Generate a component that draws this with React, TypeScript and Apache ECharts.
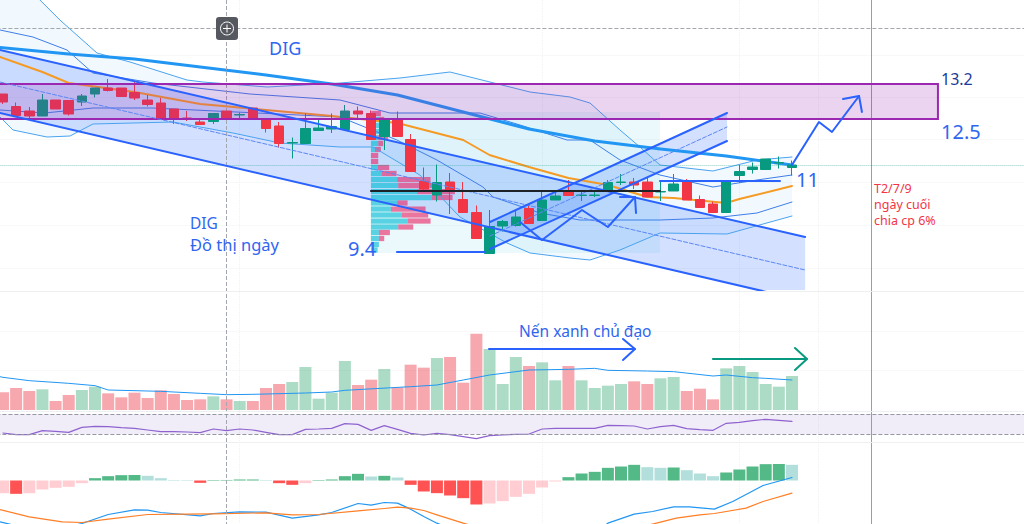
import React, { useEffect, useRef } from "react";
import * as echarts from "echarts";

type P = [number, number];

// [open, close, low, high] for each session
const candles: number[][] = [
  [12.42,12.26,12.22,12.42],[12.17,11.99,11.98,12.25],[12.08,11.98,11.94,12.16],[11.98,12.30,11.98,12.42],
  [12.30,12.12,12.12,12.30],[12.29,12.02,11.99,12.29],[12.26,12.38,12.18,12.42],[12.42,12.54,12.35,12.54],
  [12.54,12.49,12.47,12.72],[12.54,12.37,12.37,12.54],[12.45,12.34,12.30,12.68],[12.30,12.21,12.17,12.40],
  [12.24,11.93,11.93,12.34],[12.12,11.93,11.82,12.12],[11.94,11.93,11.88,12.08],[11.86,11.81,11.81,11.91],
  [11.87,12.03,11.82,12.03],[12.08,11.93,11.93,12.08],[12.00,12.01,11.93,12.05],[12.14,11.93,11.93,12.14],
  [11.91,11.73,11.65,11.91],[11.78,11.43,11.35,11.86],[11.44,11.45,11.13,11.55],[11.43,11.73,11.43,12.03],
  [11.69,11.74,11.69,11.90],[11.72,11.77,11.64,12.03],[11.71,12.08,11.71,12.20],[12.08,12.02,11.94,12.17],
  [12.03,11.51,11.51,12.09],[11.57,11.90,11.30,11.94],[11.91,11.57,11.57,12.07],[11.51,10.87,10.87,11.62],
  [10.67,10.52,10.50,10.95],[10.40,10.65,10.27,11.01],[10.66,10.50,10.02,10.84],[10.31,10.05,10.05,10.66],
  [10.05,9.53,9.53,10.19],[9.23,9.77,9.23,10.10],[9.78,9.87,9.67,9.90],[9.79,9.96,9.77,10.10],
  [10.13,9.83,9.83,10.20],[9.89,10.30,9.89,10.47],[10.30,10.38,10.30,10.47],[10.47,10.39,10.39,10.70],
  [10.39,10.40,10.28,10.47],[10.39,10.40,10.36,10.47],[10.47,10.65,10.47,10.70],[10.65,10.66,10.60,10.82],
  [10.66,10.60,10.52,10.74],[10.66,10.36,10.36,10.74],[10.46,10.47,10.28,10.70],[10.48,10.62,10.48,10.82],
  [10.66,10.30,10.30,10.72],[10.31,10.15,10.15,10.39],[10.22,10.05,10.05,10.27],[10.05,10.66,10.05,10.66],
  [10.79,10.87,10.64,11.00],[10.91,10.96,10.83,11.05],[10.91,11.12,10.91,11.12],[11.04,11.05,10.93,11.17],
  [10.95,11.00,10.79,11.09],
];

const volumes = [53,66,57,62,27,45,60,70,50,38,52,36,59,48,30,32,41,32,27,27,66,78,84,129,34,52,147,75,91,123,68,136,
  127,156,159,82,229,183,78,159,132,143,89,132,89,66,73,78,86,78,95,99,57,64,32,125,132,114,78,70,102];
const volumeAverage: P[] = [[-0.23,100],[0,98],[2,88],[5,80],[7,73],[8,60],[12,56],[15,50],[17,46],[19,47],[23,51],[25,54],[26,59],[31,70],
  [33,75],[35,90],[37,105],[40,120],[43,122],[45,125],[46,119],[49,117],[51,115],[54,102],[55,105],[57,97],[58,95],[60,90]];

const rsi = [32.7,29.3,29.3,37.3,36,34,44,46,45.3,43.3,42,38.7,35.3,35.3,34.7,33.3,40.7,37.3,40.7,38.7,34,29.3,29.3,40,40.7,42,51.3,50,38,47.3,40,
  32,28.7,32,29.3,25.3,21.3,27.3,28.7,30,30.7,40.7,42,42,42,42,48,47.3,46.7,40.7,45.3,48,41.3,39.3,38,52,54,57.3,60,58,56];

const macdHist = [-38,-40,-38,-27,-22,-19,-8,7,13,16,16.5,14,7,1.5,1.4,-7,1.5,1.6,3,3.1,1.5,-8,-13,-8,1.5,3,13,20,12,14,9,
  -13,-33,-38,-45,-53,-72,-69,-62,-49,-40,-21,-3,10,21,26,38,42,47,40,38,39,31,21,13,24,33,42,49,49.5,47];
const macdLine: P[] = [[-0.23,-124],[0.5,-131],[2,-145],[4,-148],[6,-129],[8,-102],[10,-88],[11,-89],[12,-96],[15,-106],[16,-99],[18,-94],[20,-95],[22,-113],[24,-103],[25,-96],[27,-69],[28,-74],[29,-66],[30,-68],[31,-86],
  [32,-108],[33,-128],[35,-160],[37,-190],[39,-210],[41,-200],[43,-180],[45,-160],[46,-128],[48,-101],[49.4,-93],[51,-79],[52.2,-79],[54.1,-86],[55.5,-63],[57.8,-15],[60,9]];
const macdSignal: P[] = [[-0.23,-87],[2,-109],[4.5,-124],[6,-126],[8,-116],[11,-102],[14,-101],[16,-100],[20,-97],[22,-103],[24,-102],[27,-91],[29,-84],[30,-80],[31,-83],
  [32,-90],[33,-103],[35,-128],[37,-150],[40,-170],[42,-175],[44,-172],[46,-166],[48,-144],[50,-125],[51.2,-113],[53,-103],[54.1,-99],[56.5,-83],[57.8,-63],[60,-38]];

const maSlow: P[] = [[-0.23,13.35],[5,13.22],[10,13.12],[15,12.96],[20,12.8],[25,12.62],[30,12.4],[35,12.06],[40,11.72],[45,11.48],[50,11.32],[55,11.18],[60,11.0]];
const maOrange: P[] = [[-0.23,13.16],[3,12.86],[5,12.64],[10,12.46],[15,12.22],[20,12.1],[25,11.98],[30,11.84],[35,11.5],[37,11.2],[40,10.96],[43,10.74],[46,10.6],[49,10.36],[51,10.34],[55,10.24],[56,10.32],[60,10.58]];
const bandUpper: P[] = [[2.81,14.3],[4.33,13.9],[7.15,13.24],[9.66,13.06],[13.99,12.7],[15.2,12.66],[20.08,12.56],[25.63,12.64],[30.19,12.74],[33.99,12.86],[37.03,12.66],[40.08,12.46],[43.12,12.36],[44.64,12.24],[46.92,11.7],[48.44,11.36],[49.96,11.0],[53.99,10.88],[57.34,11.1],[60,11.16]];
const bandLower: P[] = [[-0.23,11.96],[0.76,11.7],[3.35,11.56],[5.1,11.58],[6.84,11.82],[12.93,11.86],[17.49,11.64],[21.06,11.44],[25.63,11.36],[28.14,11.36],[31.7,10.8],[34.75,9.96],[38.33,9.44],[40.08,9.24],[43.12,9.14],[44.64,9.1],[46.92,9.3],[49.96,9.64],[55.06,9.62],[60,9.98]];
const bandInnerUp: P[] = [[-0.23,13.7],[2.28,13.56],[4.87,13.3],[6.84,12.84],[11.41,12.64],[18.78,12.42],[25.63,12.3],[29.43,12.04],[31.94,12.04],[36.27,12.04],[39.32,11.8],[42.89,11.5],[44.64,11.5],[46.92,11.1],[49.96,10.8],[53.99,10.56],[57.34,10.7],[60,10.8]];
const bandInnerLow: P[] = [[-0.23,12.1],[3.19,12.04],[6.84,12.14],[11.41,12.14],[25.63,11.96],[29.96,11.5],[33,11.1],[36.5,10.56],[37.27,10.36],[40.84,10.04],[43.88,9.9],[49.96,9.9],[53.99,9.94],[57.34,10.04],[60,10.26]];

// [price, up volume, down volume]
const volumeProfile: number[][] = [
  [12.03,2,28],[11.91,25,15],[11.79,25,25],[11.67,25,30],[11.55,22,30],[11.43,22,15],[11.31,12,18],[11.19,0,22],[11.07,0,22],
  [10.95,20,35],[10.83,32,45],[10.71,79,100],[10.59,82,130],[10.47,139,113],[10.35,182,63],[10.24,79,31],[10.12,60,104],
  [10.00,92,80],[9.88,110,69],[9.76,82,45],[9.65,24,33],[9.53,24,16],[9.41,24,0],[9.30,20,0],
];

const downChannelTop: P[] = [[-0.23,13.3],[61,9.56]];
const downChannelMid: P[] = [[-0.23,12.66],[61,8.9]];
const downChannelLow: P[] = [[-0.23,12.04],[61,8.28]];
const upChannelTop: P[] = [[37.03,9.86],[55.06,12.04]];
const upChannelMid: P[] = [[37.03,9.58],[55.06,11.76]];
const upChannelLow: P[] = [[37.03,9.32],[55.06,11.48]];
const resistanceZone: P[] = [[-0.5,12.62],[71.1,12.62],[71.1,11.92],[-0.5,11.92]];
const rangeBox: P[] = [[27.98,12.06],[49.96,12.06],[49.96,9.24],[27.98,9.24]];
const pocLine: P[] = [[27.98,10.48],[49.96,10.48]];
const supportLine: P[] = [[29.96,9.26],[36.65,9.26]];
const pivotLine: P[] = [[49.96,10.68],[59.09,10.68]];
const zigzag: P[] = [[39.32,9.86],[40.99,9.5],[44.03,10.1],[46,9.76],[48.06,10.36]];
const zigzagHead: P[] = [[46.92,10.36],[48.06,10.36],[48.14,10.04]];
const targetPath: P[] = [[60,11],[62.05,11.86],[63.04,11.66],[65.1,12.38]];
const targetHead: P[] = [[63.88,12.32],[65.1,12.38],[65.32,12.06]];
const volumeArrowBlue: P[] = [[36.96,183],[48.06,183]];
const volumeArrowBlueHead: P[] = [[47.15,213],[48.06,183],[47.15,150]];
const volumeArrowGreen: P[] = [[53.99,153],[61.14,153]];
const volumeArrowGreenHead: P[] = [[60.23,186],[61.14,153],[60.23,120]];

const gridPrices = [13.2, 12.36, 11.52, 10.66, 9.8, 8.94];
const gridBars = [18, 41, 56, 62];
const crosshairPrice = 13.74;
const crosshairBar = 17;
const marketBar = 66;
const lastPrice = 11;

const BLUE = "#2962ff";
const TEAL = "#089981";
const RED = "#f23645";
const TEXT_BLUE = "#2f66f0";
const dotted = { color: "rgba(120,123,134,0.1)", type: "dotted" as const, width: 1 };
const BAR_SLOTS = 79;
const categories = Array.from({ length: BAR_SLOTS }, (_, i) => String(i));

function line(xAxisIndex: number, yAxisIndex: number, data: P[], color: string, width: number, z: number, type: string = "solid", extra: any = {}) {
  return { type: "line", xAxisIndex, yAxisIndex, data, z, symbol: "none", showSymbol: false, silent: true, animation: false,
    lineStyle: { color, width, type, join: "round", cap: "round" }, ...extra };
}
function area(xAxisIndex: number, yAxisIndex: number, pts: P[], fill: string, z: number, stroke?: string, lw = 0) {
  return { type: "custom", xAxisIndex, yAxisIndex, z, clip: true, silent: true, data: [pts[0]],
    renderItem: (_: any, api: any) => ({
      type: "polygon",
      shape: { points: pts.map((p) => api.coord(p)) },
      style: { fill, stroke: stroke || "none", lineWidth: lw },
    }) };
}
function hMarks(values: number[], style: any) {
  return { silent: true, symbol: "none", animation: false, label: { show: false }, lineStyle: style, data: values.map((v) => ({ yAxis: v })) };
}
function vMarks(values: number[], style: any) {
  return { silent: true, symbol: "none", animation: false, label: { show: false }, lineStyle: style, data: values.map((v) => ({ xAxis: v })) };
}

function text(x: number, y: number, t: string, fill: string, size: number) {
  return { type: "text", x, y, z: 100, silent: true,
    style: { text: t, fill, fontSize: size, fontFamily: "'Noto Sans', sans-serif", textAlign: "left", textVerticalAlign: "middle" } };
}

function buildOption(): any {
  const xCommon = { show: false };
  const valX = (gridIndex: number) => ({ type: "value", gridIndex, min: -0.5, max: BAR_SLOTS - 0.5, ...xCommon });
  const catX = (gridIndex: number) => ({ type: "category", gridIndex, data: categories, ...xCommon });
  const gridBase = { left: -3.6, width: 13.15 * BAR_SLOTS, containLabel: false, show: false, outerBoundsMode: "none" };
  const vpStart = 27.98, vpScale = 1 / 39.45, vpRow = 0.105;

  return {
    animation: false,
    backgroundColor: "#ffffff",
    grid: [
      { ...gridBase, top: 0, height: 290 },
      { ...gridBase, top: 320, height: 90 },
      { ...gridBase, top: 404.33, height: 40 },
      { ...gridBase, top: 442, height: 82 },
      { ...gridBase, top: 0, height: 524 },
    ],
    xAxis: [catX(0), valX(0), catX(1), valX(1), valX(2), catX(3), valX(3), valX(4)],
    yAxis: [
      { type: "value", gridIndex: 0, min: 8.5, max: 14.3, show: false },
      { type: "value", gridIndex: 1, min: 0, max: 270, show: false },
      { type: "value", gridIndex: 2, min: 10, max: 90, show: false },
      { type: "value", gridIndex: 3, min: -130.5, max: 115.5, show: false },
      { type: "value", gridIndex: 4, min: 0, max: 524, inverse: true, show: false },
    ],
    graphic: [
      { type: "rect", z: 100, silent: true, shape: { x: 216, y: 17, width: 22, height: 23, r: 3 }, style: { fill: "#55585f" } },
      { type: "circle", z: 101, silent: true, shape: { cx: 227, cy: 28.5, r: 6.5 }, style: { fill: "none", stroke: "#fff", lineWidth: 1 } },
      { type: "line", z: 101, silent: true, shape: { x1: 223, y1: 28.5, x2: 231, y2: 28.5 }, style: { stroke: "#fff", lineWidth: 1 } },
      { type: "line", z: 101, silent: true, shape: { x1: 227, y1: 24.5, x2: 227, y2: 32.5 }, style: { stroke: "#fff", lineWidth: 1 } },
      text(269, 48, "DIG", TEXT_BLUE, 18),
      text(190, 223, "DIG", TEXT_BLUE, 15.5),
      text(190, 244, "Đồ thị ngày", TEXT_BLUE, 16.5),
      text(348, 248, "9.4", TEXT_BLUE, 20),
      text(941, 79, "13.2", "#1a3a9c", 16),
      text(941, 131, "12.5", TEXT_BLUE, 20),
      text(796, 179, "11", TEXT_BLUE, 20),
      text(874, 188, "T2/7/9", RED, 12.5),
      text(874, 204, "ngày cuối", RED, 12.5),
      text(874, 220, "chia cp 6%", RED, 12.5),
      text(519, 331, "Nến xanh chủ đạo", TEXT_BLUE, 15.5),
    ],
    series: [
      // page-wide rules
      line(7, 4, [[0, 0]], "transparent", 0, 1, "solid", { markLine: vMarks(gridBars, dotted) }),
      line(7, 4, [[0, 0]], "transparent", 0, 9, "solid", {
        markLine: vMarks([crosshairBar], { color: "#a3a6ae", type: "dashed", width: 1 }),
      }),
      line(7, 4, [[0, 0]], "transparent", 0, 9, "solid", {
        markLine: vMarks([marketBar], { color: "#7f9cf5", type: "solid", width: 1 }),
      }),
      line(7, 4, [[0, 0]], "transparent", 0, 1, "solid", {
        markLine: hMarks([291, 411, 442], { color: "#eeeff1", type: "solid", width: 1 }),
      }),

      // main pane backgrounds
      line(1, 0, [[0, 14]], "transparent", 0, 1, "solid", { markLine: hMarks(gridPrices, dotted) }),
      line(1, 0, [[0, 14]], "transparent", 0, 9, "solid", { markLine: hMarks([crosshairPrice], { color: "#a3a6ae", type: "dashed", width: 1 }) }),
      line(1, 0, [[0, 14]], "transparent", 0, 2, "solid", { markLine: hMarks([lastPrice], { color: "rgba(8,153,129,0.45)", type: "dotted", width: 1 }) }),
      area(1, 0, [...bandUpper, ...bandLower.slice().reverse(), [-0.23, 14.3] as P], "rgba(33,150,243,0.06)", 2),
      area(1, 0, [downChannelTop[0], downChannelTop[1], downChannelLow[1], downChannelLow[0]], "rgba(41,98,255,0.2)", 2),
      area(1, 0, [upChannelTop[0], upChannelTop[1], upChannelLow[1], upChannelLow[0]], "rgba(41,98,255,0.2)", 2),
      area(1, 0, rangeBox, "rgba(33,190,226,0.09)", 2),
      {
        type: "custom", xAxisIndex: 1, yAxisIndex: 0, z: 3, clip: true, silent: true,
        data: volumeProfile,
        encode: { y: 0 },
        renderItem: (_: any, api: any) => {
          const price = api.value(0), up = api.value(1), down = api.value(2);
          const a = api.coord([vpStart, price + vpRow / 2]);
          const b = api.coord([vpStart + up * vpScale, price - vpRow / 2]);
          const c = api.coord([vpStart + (up + down) * vpScale, price - vpRow / 2]);
          return { type: "group", children: [
            { type: "rect", shape: { x: a[0], y: a[1], width: b[0] - a[0], height: b[1] - a[1] }, style: { fill: "rgba(0,188,212,0.62)" } },
            { type: "rect", shape: { x: b[0], y: a[1], width: c[0] - b[0], height: b[1] - a[1] }, style: { fill: "rgba(233,30,99,0.6)" } },
          ] };
        },
      },

      // thin band lines
      line(1, 0, bandUpper, "#4aa3f0", 1, 4),
      line(1, 0, bandLower, "#4aa3f0", 1, 4),
      line(1, 0, bandInnerUp, "#3f7ee8", 1, 4),
      line(1, 0, bandInnerLow, "#3f7ee8", 1, 4),
      line(1, 0, maOrange, "#f59a23", 2, 4),
      line(1, 0, maSlow, "#2196f3", 3, 4),

      // candles
      {
        type: "candlestick", xAxisIndex: 0, yAxisIndex: 0, z: 5, silent: true, barWidth: 10,
        data: candles,
        itemStyle: { color: TEAL, color0: RED, borderColor: TEAL, borderColor0: RED, borderWidth: 1 },
      },

      // drawings
      line(1, 0, downChannelTop, BLUE, 2, 6),
      line(1, 0, downChannelLow, BLUE, 2, 6),
      line(1, 0, downChannelMid, "#5b86f5", 1, 6, "dashed"),
      line(1, 0, upChannelTop, BLUE, 2, 6),
      line(1, 0, upChannelLow, BLUE, 2, 6),
      line(1, 0, upChannelMid, "#5b86f5", 1, 6, "dashed"),
      line(1, 0, pocLine, "#1c2226", 2, 7),
      line(1, 0, supportLine, BLUE, 2, 7),
      line(1, 0, pivotLine, BLUE, 2, 7),
      line(1, 0, zigzag, BLUE, 2, 7),
      line(1, 0, zigzagHead, BLUE, 2, 7),
      line(1, 0, targetPath, BLUE, 2, 7),
      line(1, 0, targetHead, BLUE, 2, 7),
      area(1, 0, resistanceZone, "rgba(156,39,176,0.2)", 6, "#9c27b0", 2),

      // volume
      line(3, 1, [[0, 240]], "transparent", 0, 1, "solid", { markLine: hMarks([237, 120], dotted) }),
      {
        type: "bar", xAxisIndex: 2, yAxisIndex: 1, z: 3, silent: true, barWidth: 12,
        data: volumes.map((v, i) => ({
          value: v,
          itemStyle: { color: candles[i][1] >= candles[i][0] ? "#acdcc5" : "#f7a8af" },
        })),
      },
      line(3, 1, volumeAverage, "#2196f3", 1, 4),
      line(3, 1, volumeArrowBlue, BLUE, 2, 7),
      line(3, 1, volumeArrowBlueHead, BLUE, 2, 7),
      line(3, 1, volumeArrowGreen, TEAL, 2, 7),
      line(3, 1, volumeArrowGreenHead, TEAL, 2, 7),

      // RSI
      area(4, 2, [[-0.5, 70], [BAR_SLOTS - 0.5, 70], [BAR_SLOTS - 0.5, 30], [-0.5, 30]], "rgba(126,87,194,0.11)", 2),
      line(4, 2, [[0, 50]], "transparent", 0, 3, "solid", { markLine: hMarks([70, 30], { color: "#9598a1", type: "dashed", width: 1 }) }),
      line(4, 2, rsi.map((v, i) => [i, v] as P), "#8e63cf", 1.2, 4),

      // MACD
      {
        type: "bar", xAxisIndex: 5, yAxisIndex: 3, z: 3, silent: true, barWidth: 12,
        data: macdHist.map((v, i) => {
          const prev = i > 0 ? macdHist[i - 1] : v;
          const color = v >= 0 ? (v > prev ? "#53b987" : "#b2dfdb") : (v < prev ? "#ff5252" : "#ffcdd2");
          return { value: v, itemStyle: { color } };
        }),
      },
      line(6, 3, macdLine, "#2196f3", 1.2, 4),
      line(6, 3, macdSignal, "#ff7f27", 1.2, 4),
    ],
  };
}

export default function App() {
  const ref = useRef<HTMLDivElement | null>(null);
  useEffect(() => {
    document.body.style.margin = "0";
    const chart = echarts.init(ref.current!, undefined, { renderer: "svg" });
    chart.setOption(buildOption());
    return () => chart.dispose();
  }, []);
  return <div ref={ref} style={{ width: 1024, height: 524, background: "#fff", overflow: "hidden" }} />;
}
